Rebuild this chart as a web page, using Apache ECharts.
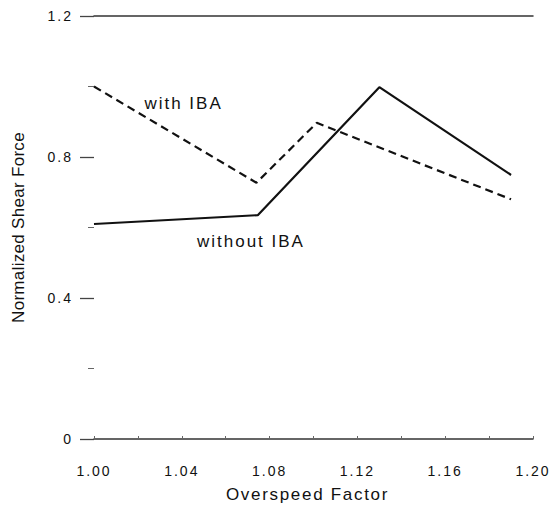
<!DOCTYPE html>
<html>
<head>
<meta charset="utf-8">
<script src="https://cdn.jsdelivr.net/npm/echarts@6/dist/echarts.min.js"></script>
<style>
  html, body { margin: 0; padding: 0; background: #fff; }
  #chart { width: 551px; height: 508px; }
</style>
</head>
<body>
<div id="chart"></div>
<script>
// ---- data ----
const xTickValues = [1.00, 1.04, 1.08, 1.12, 1.16, 1.20];
const yTickValues = [0, 0.4, 0.8, 1.2];
const withIBA_x = [1.000, 1.074, 1.1015, 1.190];
const withIBA_y = [1.000, 0.727, 0.897, 0.680];
const withoutIBA_x = [1.000, 1.0746, 1.130, 1.190];
const withoutIBA_y = [0.610, 0.635, 0.998, 0.749];
const annotationTexts = ['with IBA', 'without IBA'];
const annotationX = [1.0408, 1.0715];
const annotationY = [0.952, 0.560];
const xTitle = 'Overspeed Factor';
const yTitle = 'Normalized Shear Force';

const FONT = "'Liberation Sans', Arial, Helvetica, sans-serif";
const INK = '#111';

const zip = (xs, ys) => xs.map((x, i) => [x, ys[i]]);

const chart = echarts.init(document.getElementById('chart'), null, { renderer: 'svg' });

const option = {
  animation: false,
  backgroundColor: '#fff',
  grid: { left: 94, right: 18, top: 16, bottom: 69, containLabel: false, outerBoundsMode: 'none' },
  xAxis: [{
    type: 'value',
    min: 1.00, max: 1.20, interval: 0.04,
    position: 'bottom',
    name: xTitle,
    nameLocation: 'middle',
    nameGap: 47,
    nameTextStyle: { fontFamily: FONT, fontSize: 17, color: INK, padding: [0, 12, 0, 0] },
    axisLine: { show: true, onZero: false, lineStyle: { color: '#333', width: 1.5 } },
    axisTick: { show: true, inside: true, length: 3, lineStyle: { color: '#666', width: 1 } },
    minorTick: { show: true, splitNumber: 2, length: 3, lineStyle: { color: '#666', width: 1 } },
    splitLine: { show: false },
    axisLabel: {
      fontFamily: FONT, fontSize: 14, color: INK, margin: 25,
      formatter: v => v.toFixed(2)
    }
  }, {
    type: 'value',
    min: 1.00, max: 1.20, interval: 0.04,
    position: 'top',
    axisLine: { show: true, onZero: false, lineStyle: { color: '#333', width: 1.5 } },
    axisTick: { show: false },
    axisLabel: { show: false },
    splitLine: { show: false }
  }],
  yAxis: {
    type: 'value',
    min: 0, max: 1.2, interval: 0.4,
    name: yTitle,
    nameLocation: 'middle',
    nameGap: 67,
    nameTextStyle: { fontFamily: FONT, fontSize: 17, color: INK },
    axisLine: { show: false },
    axisTick: { show: true, length: 14, lineStyle: { color: '#444', width: 1.3 } },
    minorTick: { show: true, splitNumber: 2, length: 6, lineStyle: { color: '#666', width: 1 } },
    splitLine: { show: false },
    axisLabel: {
      fontFamily: FONT, fontSize: 14, color: INK, margin: 21,
      formatter: v => (v === 0 ? '0' : v.toFixed(1))
    }
  },
  series: [{
    name: 'with IBA',
    type: 'line',
    data: zip(withIBA_x, withIBA_y),
    symbol: 'none',
    lineStyle: { color: INK, width: 2.2, type: [8, 5] },
    markPoint: {
      symbol: 'circle', symbolSize: 0,
      data: [{ name: annotationTexts[0], coord: [annotationX[0], annotationY[0]] }],
      label: { show: true, position: 'inside', formatter: p => p.name, fontFamily: FONT, fontSize: 17, color: INK }
    }
  }, {
    name: 'without IBA',
    type: 'line',
    data: zip(withoutIBA_x, withoutIBA_y),
    symbol: 'none',
    lineStyle: { color: INK, width: 2.2, type: 'solid' },
    markPoint: {
      symbol: 'circle', symbolSize: 0,
      data: [{ name: annotationTexts[1], coord: [annotationX[1], annotationY[1]] }],
      label: { show: true, position: 'inside', formatter: p => p.name, fontFamily: FONT, fontSize: 17, color: INK }
    }
  }]
};

chart.setOption(option);

// letter spacing to mimic the wide tracking of the original typesetting
function applySpacing() {
  const texts = document.querySelectorAll('#chart svg text');
  texts.forEach(t => {
    const s = t.textContent;
    let ls = 2;
    if (s === yTitle) ls = 0.3;
    else if (s === xTitle) ls = 1.7;
    t.setAttribute('letter-spacing', ls);
  });
}
chart.on('finished', applySpacing);
applySpacing();
setTimeout(applySpacing, 0);
setTimeout(applySpacing, 50);
</script>
</body>
</html>
